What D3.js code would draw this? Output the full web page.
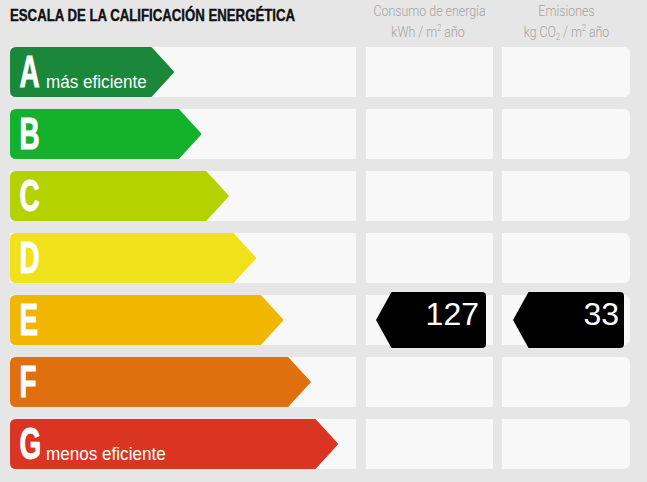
<!DOCTYPE html>
<html>
<head>
<meta charset="utf-8">
<script src="https://cdn.jsdelivr.net/npm/d3@7"></script>
<style>
  html, body { margin: 0; padding: 0; background: #e6e6e6; }
  svg { display: block; }
</style>
</head>
<body>
<div id="chart"></div>
<script>
// ---- data ----
const classes = ["A", "B", "C", "D", "E", "F", "G"];
const classColors = ["#1a873b", "#14b22c", "#b3d200", "#f0e11b", "#f0b600", "#e0700d", "#da3522"];
const classNotes = ["más eficiente", "", "", "", "", "", "menos eficiente"];
const title = "ESCALA DE LA CALIFICACIÓN ENERGÉTICA";
const ratedClass = "E";
const consumoValue = 127;
const emisionesValue = 33;

// ---- layout ----
const W = 647, H = 482;
const svg = d3.select("#chart").append("svg").attr("width", W).attr("height", H);
svg.append("rect").attr("width", W).attr("height", H).attr("fill", "#e6e6e6");

const y = d3.scaleBand().domain(classes).range([35, 481]).padding(12 / 62);
const tipX = d3.scaleLinear().domain([0, classes.length - 1]).range([174, 338]);
const bw = y.bandwidth();

const leftX0 = 10, leftX1 = 356;
const midX0 = 366, midX1 = 493;
const rightX0 = 502, rightX1 = 630;

// title
svg.append("text")
  .attr("x", 10).attr("y", 20.5)
  .attr("font-family", "Liberation Sans, Arial, sans-serif")
  .attr("font-weight", "bold").attr("font-size", 16)
  .attr("textLength", 285).attr("lengthAdjust", "spacingAndGlyphs")
  .attr("fill", "#111").attr("stroke", "#111").attr("stroke-width", 0.4)
  .text(title);

// column headers
function header(cx, yy, parts) {
  const t = svg.append("text")
    .attr("transform", `translate(${cx},${yy}) scale(0.8,1)`)
    .attr("text-anchor", "middle")
    .attr("font-family", "Roboto, Liberation Sans, sans-serif")
    .attr("font-weight", 300).attr("font-size", 15.5)
    .attr("fill", "#a3a3a3");
  parts.forEach(p => {
    const ts = t.append("tspan").text(p.t);
    if (p.sup) ts.attr("font-size", 9).attr("dy", -6);
    if (p.sub) ts.attr("font-size", 9).attr("dy", 3);
    if (p.after) ts.attr("dy", p.after);
  });
}
header(429.5, 16, [{t: "Consumo de energía"}]);
header(428, 37, [{t: "kWh / m"}, {t: "2", sup: true}, {t: " año", after: 6}]);
header(566.5, 16, [{t: "Emisiones"}]);
header(566.5, 37, [{t: "kg CO"}, {t: "2", sub: true}, {t: " / m", after: -3}, {t: "2", sup: true}, {t: " año", after: 6}]);

// cells
const rows = svg.append("g").selectAll("g").data(classes).join("g");
rows.append("rect")
  .attr("x", leftX0).attr("y", d => y(d)).attr("width", leftX1 - leftX0).attr("height", bw)
  .attr("fill", "#f8f8f8");
rows.append("rect")
  .attr("x", midX0).attr("y", d => y(d)).attr("width", midX1 - midX0).attr("height", bw)
  .attr("fill", "#f8f8f8");
rows.append("path")
  .attr("d", d => {
    const x0 = rightX0, x1 = rightX1, y0 = y(d), y1 = y(d) + bw, r = 7;
    return `M${x0},${y0} L${x1 - r},${y0} Q${x1},${y0} ${x1},${y0 + r} L${x1},${y1 - r} Q${x1},${y1} ${x1 - r},${y1} L${x0},${y1} Z`;
  })
  .attr("fill", "#f8f8f8");

// arrows
rows.append("path")
  .attr("d", (d, i) => {
    const x0 = leftX0 + 1, y0 = y(d) + 1, y1 = y(d) + bw - 1, ym = (y0 + y1) / 2;
    const tx = tipX(i) - 1, xs = tx - 22, r = 5;
    return `M${x0 + r},${y0} L${xs},${y0} L${tx},${ym} L${xs},${y1} L${x0 + r},${y1} Q${x0},${y1} ${x0},${y1 - r} L${x0},${y0 + r} Q${x0},${y0} ${x0 + r},${y0} Z`;
  })
  .attr("fill", (d, i) => classColors[i])
  .attr("stroke", (d, i) => classColors[i])
  .attr("stroke-width", 2).attr("stroke-linejoin", "round");

rows.append("text")
  .attr("transform", d => `translate(19.5,${y(d) + 40}) scale(0.62,1)`)
  .attr("font-family", "Liberation Sans, Arial, sans-serif")
  .attr("font-weight", "bold").attr("font-size", 45)
  .attr("fill", "#fff").attr("stroke", "#fff").attr("stroke-width", 1)
  .text(d => d);

rows.append("text")
  .attr("transform", d => `translate(46,${y(d) + 41}) scale(0.95,1)`)
  .attr("font-family", "Liberation Sans, Arial, sans-serif")
  .attr("font-size", 18)
  .attr("fill", "#fff")
  .text((d, i) => classNotes[i]);

// rating indicators
function indicator(x0, x1, value, pad) {
  const yc = y(ratedClass) + bw / 2;
  const y0 = yc - 28, y1 = yc + 28;
  const tx = x0, bx = x0 + 15.5, r = 4;
  svg.append("path")
    .attr("d", `M${tx},${yc} L${bx},${y0} L${x1 - r},${y0} Q${x1},${y0} ${x1},${y0 + r} L${x1},${y1 - r} Q${x1},${y1} ${x1 - r},${y1} L${bx},${y1} Z`)
    .attr("fill", "#000");
  svg.append("text")
    .attr("x", x1 - pad).attr("y", yc + 5)
    .attr("text-anchor", "end")
    .attr("font-family", "Liberation Sans, Arial, sans-serif")
    .attr("font-size", 32)
    .attr("fill", "#fff")
    .text(value);
}
indicator(376, 486, consumoValue, 7);
indicator(513, 624, emisionesValue, 5);
</script>
</body>
</html>
